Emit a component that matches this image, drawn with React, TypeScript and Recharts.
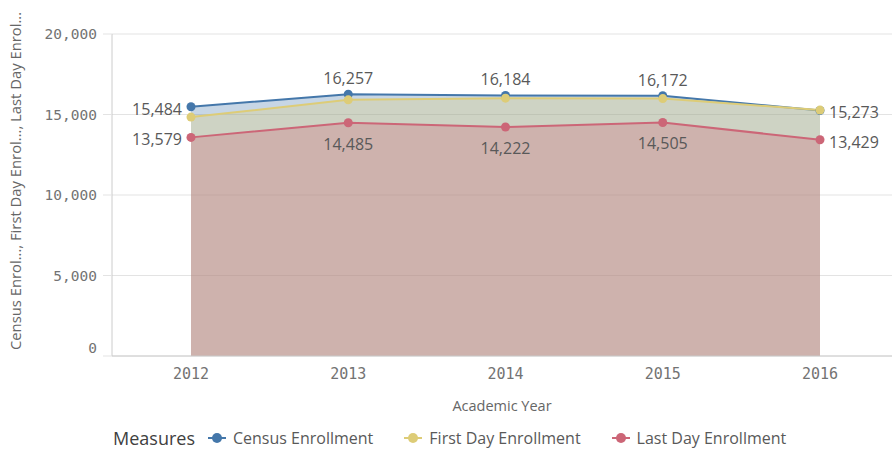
import React from "react";
import {
  AreaChart,
  Area,
  XAxis,
  YAxis,
  CartesianGrid,
  Legend,
  LabelList,
  Label,
} from "recharts";

const YEARS = ["2012", "2013", "2014", "2015", "2016"];
const CENSUS = [15484, 16257, 16184, 16172, 15250];
const FIRST_DAY = [14840, 15910, 16015, 15990, 15273];
const LAST_DAY = [13579, 14485, 14222, 14505, 13429];
const Y_TICKS = [0, 5000, 10000, 15000, 20000];

const SERIES = [
  { key: "census", name: "Census Enrollment", color: "#4477aa" },
  { key: "firstDay", name: "First Day Enrollment", color: "#ddcc77" },
  { key: "lastDay", name: "Last Day Enrollment", color: "#cc6677" },
];

const data = YEARS.map((year, i) => ({
  year,
  census: CENSUS[i],
  firstDay: FIRST_DAY[i],
  lastDay: LAST_DAY[i],
}));

const MONO = "'DejaVu Sans Mono', monospace";
const SANS = "'Open Sans', sans-serif";
const fmt = (v: number) => v.toLocaleString("en-US");

type Place = "left" | "right" | "above" | "below" | null;

// which point gets a label, and where
const placements: Record<string, (i: number) => Place> = {
  census: (i) => (i === 0 ? "left" : i === 4 ? null : "above"),
  firstDay: (i) => (i === 4 ? "right" : null),
  lastDay: (i) => (i === 0 ? "left" : i === 4 ? "right" : "below"),
};

const makeLabel = (key: string) => (props: any) => {
  const { x, y, value, index } = props;
  const p = placements[key](index);
  if (!p) return null;
  let tx = x;
  let ty = y;
  let anchor: "start" | "middle" | "end" = "middle";
  if (p === "left") {
    tx = x - 9;
    ty = y + 2;
    anchor = "end";
  } else if (p === "right") {
    tx = x + 9;
    ty = y + 2;
    anchor = "start";
  } else if (p === "above") {
    ty = y - 16;
  } else {
    ty = y + 21;
  }
  return (
    <text
      key={`${key}-${index}`}
      x={tx}
      y={ty}
      textAnchor={anchor}
      dominantBaseline="central"
      fill="#595959"
      fontSize={16}
      fontFamily={SANS}
    >
      {fmt(value)}
    </text>
  );
};

const YTick = (props: any) => {
  const { x, y, payload } = props;
  return (
    <text
      x={x}
      y={payload.value === 0 ? y - 8 : y}
      textAnchor="end"
      dominantBaseline="central"
      fill="#737373"
      fontSize={14.5}
      fontFamily={MONO}
    >
      {fmt(payload.value)}
    </text>
  );
};

const YTitle = () => {
  const cx = 15;
  const cy = 181;
  return (
    <text
      x={cx}
      y={cy}
      transform={`rotate(-90, ${cx}, ${cy})`}
      textAnchor="middle"
      dominantBaseline="central"
      fill="#666666"
      fontSize={14.8}
      fontFamily={SANS}
    >
      Census Enrol..., First Day Enrol..., Last Day Enrol...
    </text>
  );
};

const LegendContent = () => (
  <div
    style={{
      height: 30,
      display: "flex",
      alignItems: "center",
      paddingLeft: 113,
      fontFamily: SANS,
      whiteSpace: "nowrap",
    }}
  >
    <span style={{ fontSize: 18, color: "#404040", marginRight: 13 }}>Measures</span>
    {SERIES.map((s) => (
      <span
        key={s.key}
        style={{ display: "inline-flex", alignItems: "center", marginRight: 31 }}
      >
        <svg width={18} height={12} style={{ marginRight: 7 }}>
          <line x1={0} y1={6} x2={18} y2={6} stroke={s.color} strokeWidth={2} />
          <circle cx={9} cy={6} r={5} fill={s.color} />
        </svg>
        <span style={{ fontSize: 16, color: "#595959" }}>{s.name}</span>
      </span>
    ))}
  </div>
);

export default function App() {
  return (
    <div style={{ position: "absolute", left: 0, top: 0, background: "#fff" }}>
      <AreaChart
        width={892}
        height={453}
        data={data}
        margin={{ top: 34, right: 0, bottom: 0, left: 0 }}
      >
        <CartesianGrid horizontal vertical={false} stroke="#e3e3e3" />
        <XAxis
          dataKey="year"
          padding={{ left: 79, right: 72 }}
          height={67}
          tickLine={false}
          tickSize={0}
          tickMargin={12}
          axisLine={{ stroke: "#cccccc" }}
          tick={{ fill: "#737373", fontSize: 15, fontFamily: MONO }}
        >
          <Label
            value="Academic Year"
            position="insideBottom"
            offset={12}
            fill="#666666"
            fontSize={14.5}
            fontFamily={SANS}
          />
        </XAxis>
        <YAxis
          width={112}
          domain={[0, 20000]}
          ticks={Y_TICKS}
          interval={0}
          tickSize={9}
          tickMargin={6}
          tickLine={{ stroke: "#e3e3e3" }}
          axisLine={{ stroke: "#cccccc" }}
          tick={<YTick />}
        >
          <Label content={<YTitle />} />
        </YAxis>
        {SERIES.map((s) => (
          <Area
            key={s.key}
            type="linear"
            dataKey={s.key}
            name={s.name}
            stroke={s.color}
            strokeWidth={2}
            fill={s.color}
            fillOpacity={0.3}
            dot={{ r: 4.5, fill: s.color, fillOpacity: 1, stroke: "none" }}
            activeDot={false}
            isAnimationActive={false}
          >
            <LabelList dataKey={s.key} content={makeLabel(s.key)} />
          </Area>
        ))}
        <Legend verticalAlign="bottom" content={<LegendContent />} />
      </AreaChart>
    </div>
  );
}
